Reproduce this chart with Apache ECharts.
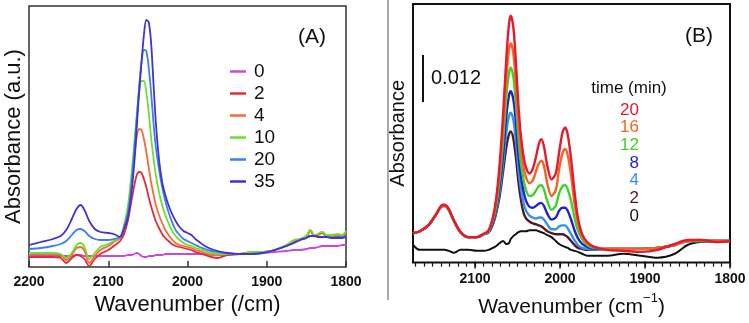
<!DOCTYPE html>
<html>
<head>
<meta charset="utf-8">
<script src="https://cdn.jsdelivr.net/npm/echarts@6/dist/echarts.min.js"></script>
<style>
  html, body { margin: 0; padding: 0; background: #fff; }
  #chart { width: 749px; height: 323px; }
</style>
</head>
<body>
<div id="chart"></div>
<script>
// panel A: wavenumbers and absorbance (a.u.)
const aWn = [2200, 2185, 2170, 2160, 2153, 2146, 2140, 2135, 2130, 2124, 2117, 2110, 2100, 2093, 2085, 2080, 2075, 2071, 2067, 2064, 2061, 2058, 2055, 2052, 2049, 2046, 2043, 2040, 2036, 2032, 2028, 2024, 2020, 2015, 2010, 2005, 2000, 1995, 1990, 1985, 1978, 1970, 1962, 1950, 1935, 1920, 1905, 1890, 1875, 1866, 1858, 1850, 1845, 1840, 1835, 1830, 1825, 1818, 1810, 1805, 1800];
const aNames = ['0', '2', '4', '10', '20', '35'];
const aColors = ['#c948dc', '#e8283a', '#f07030', '#72dc30', '#3a80f0', '#4232d0'];
const a0 = [12, 12, 12, 11, 11, 11, 12, 12, 11, 11, 11, 11, 11, 11, 11, 11, 12, 12, 13, 14, 13, 11, 10, 10, 11, 11, 11, 12, 12, 12, 13, 13, 13, 13, 13, 13, 13, 13, 13, 13, 13, 12, 12, 12, 13, 14, 14, 15, 16, 17, 17, 18, 19, 19, 20, 21, 21, 21, 21, 22, 22];
const a2 = [10, 10, 10, 9, 4, 9, 12, 11, 8, 1, 8, 13, 17, 21, 26, 33, 47, 65, 82, 92, 95, 94, 88, 80, 70, 61, 53, 46, 39, 33, 29, 26, 23, 21, 20, 19, 18, 17, 15, 14, 12, 10, 9, 12, 13, 14, 15, 17, 22, 26, 27, 30, 36, 31, 32, 34, 31, 30, 31, 30, 33];
const a4 = [13, 13, 13, 12, 7, 12, 19, 20, 16, 4, 11, 17, 21, 25, 29, 40, 58, 85, 112, 130, 138, 137, 128, 115, 100, 85, 73, 62, 52, 44, 37, 32, 28, 24, 22, 21, 20, 19, 17, 16, 14, 12, 12, 13, 13, 15, 15, 17, 22, 26, 28, 31, 37, 32, 33, 35, 32, 31, 32, 31, 34];
const a10 = [14, 14, 14, 13, 9, 14, 22, 24, 20, 8, 14, 20, 23, 26, 30, 42, 62, 90, 125, 152, 175, 186, 186, 175, 155, 130, 110, 92, 75, 62, 52, 44, 37, 31, 27, 24, 22, 21, 19, 18, 16, 14, 13, 13, 13, 15, 15, 17, 22, 27, 28, 31, 37, 32, 33, 35, 32, 32, 33, 32, 36];
const a20 = [18, 19, 21, 23, 26, 32, 37, 38, 36, 31, 28, 27, 27, 28, 30, 40, 55, 80, 118, 150, 180, 205, 217, 216, 200, 175, 145, 120, 98, 80, 66, 55, 46, 37, 32, 28, 26, 24, 22, 20, 18, 16, 15, 14, 13, 13, 14, 17, 21, 24, 27, 29, 31, 31, 30, 30, 30, 29, 30, 30, 31];
const a35 = [22, 25, 28, 31, 37, 48, 58, 62, 57, 46, 38, 35, 34, 33, 30, 38, 50, 72, 105, 140, 175, 205, 232, 247, 245, 225, 185, 145, 108, 85, 72, 62, 54, 46, 40, 36, 34, 32, 28, 25, 21, 18, 16, 14, 13, 13, 14, 17, 21, 24, 27, 29, 31, 31, 30, 30, 30, 29, 29, 29, 30];
const aSeries = [a0, a2, a4, a10, a20, a35];

// panel B
const bWn = [2173, 2165, 2155, 2146, 2140, 2136, 2131, 2125, 2117, 2108, 2098, 2090, 2084, 2079, 2075, 2071, 2067, 2063, 2060, 2058, 2055, 2052, 2049, 2046, 2043, 2040, 2036, 2032, 2028, 2025, 2022, 2019, 2015, 2010, 2005, 2001, 1997, 1994, 1991, 1987, 1983, 1979, 1974, 1968, 1960, 1945, 1925, 1905, 1885, 1865, 1850, 1835, 1815, 1800];
const bNames = ['0', '2', '4', '8', '12', '16', '20'];
const bColors = ['#111111', '#521a26', '#3590ee', '#2222cc', '#3fd22a', '#f26424', '#e8192c'];
const b0 = [17, 12, 12, 12, 12, 12, 11, 9, 12, 12, 11, 11, 12, 14, 16, 19, 21, 18, 19, 23, 26, 28, 30, 31, 31, 31, 32, 32, 32, 31, 30, 29, 27, 25, 21, 18, 16, 15, 14, 12, 11, 10, 8, 6, 6, 6, 8, 6, 4, 8, 17, 20, 21, 21];
const b2 = [29, 31, 37, 48, 56, 57, 53, 42, 30, 25, 25, 28, 30, 38, 50, 67, 92, 118, 130, 133, 126, 107, 82, 63, 50, 44, 41, 39, 38, 37, 36, 34, 31, 29, 28, 28, 28, 27, 25, 21, 17, 14, 13, 12, 12, 13, 13, 13, 14, 17, 21, 21, 21, 21];
const b4 = [29, 31, 37, 48, 56, 57, 53, 42, 30, 25, 25, 28, 30, 39, 52, 72, 100, 133, 149, 152, 145, 124, 95, 74, 60, 52, 47, 45, 44, 45, 45, 43, 38, 33, 33, 36, 37, 37, 34, 28, 22, 17, 14, 13, 12, 13, 13, 13, 14, 17, 21, 21, 21, 21];
const b8 = [29, 31, 37, 48, 56, 57, 53, 42, 30, 25, 25, 28, 30, 40, 55, 78, 110, 150, 170, 174, 166, 143, 110, 87, 72, 62, 56, 55, 57, 59, 60, 57, 49, 43, 45, 52, 55, 55, 52, 43, 32, 24, 18, 15, 13, 13, 13, 13, 14, 17, 21, 21, 21, 21];
const b12 = [29, 31, 37, 48, 56, 57, 53, 42, 30, 25, 25, 28, 31, 42, 58, 85, 123, 170, 193, 198, 189, 163, 127, 100, 84, 73, 67, 68, 73, 77, 78, 74, 62, 53, 57, 70, 77, 78, 74, 62, 45, 32, 23, 17, 14, 13, 13, 13, 14, 17, 21, 21, 21, 21];
const b16 = [29, 31, 37, 48, 56, 57, 53, 42, 30, 25, 25, 28, 32, 44, 62, 93, 137, 190, 217, 223, 213, 183, 143, 115, 97, 86, 80, 83, 93, 100, 103, 98, 80, 67, 73, 95, 111, 115, 109, 88, 60, 40, 26, 19, 15, 13, 13, 13, 14, 17, 21, 22, 21, 21];
const b20 = [29, 31, 37, 48, 57, 58, 54, 42, 30, 25, 25, 28, 32, 45, 65, 100, 150, 210, 243, 251, 240, 205, 160, 128, 108, 96, 90, 95, 108, 120, 125, 118, 98, 84, 90, 112, 132, 137, 130, 105, 72, 45, 28, 20, 15, 12, 11, 10, 12, 18, 22, 22, 20, 21];
const bSeries = [b0, b2, b4, b8, b12, b16, b20];
const bLegendOrder = ['20', '16', '12', '8', '4', '2', '0'];

const aTicks = [2200, 2100, 2000, 1900, 1800];
const bTicks = [2100, 2000, 1900, 1800];
const bMinorTicks = [];
for (let w = 1800; w <= 2170; w += 10) bMinorTicks.push(w);

const chart = echarts.init(document.getElementById('chart'));

const series = [];
aSeries.forEach((ys, i) => {
  series.push({
    name: aNames[i], type: 'line', xAxisIndex: 0, yAxisIndex: 0,
    data: aWn.map((w, j) => [w, ys[j]]),
    showSymbol: false, smooth: 0.3, animation: false,
    lineStyle: { color: aColors[i], width: 1.8 }, itemStyle: { color: aColors[i] }
  });
});
bSeries.forEach((ys, i) => {
  series.push({
    name: 'B ' + bNames[i], type: 'line', xAxisIndex: 1, yAxisIndex: 1,
    data: bWn.map((w, j) => [w, ys[j]]),
    showSymbol: false, smooth: 0.3, animation: false,
    lineStyle: { color: bColors[i], width: i === 0 ? 2 : 2.4 }
  });
});

const font = 'Liberation Sans, Arial, sans-serif';
const plain = v => String(v);

const graphics = [
  { type: 'line', shape: { x1: 388, y1: 0, x2: 388, y2: 300 }, style: { stroke: '#aaa', lineWidth: 2 } },
  { type: 'line', shape: { x1: 423, y1: 55, x2: 423, y2: 102 }, style: { stroke: '#111', lineWidth: 2 } },
  { type: 'text', x: 431, y: 78, style: { text: '0.012', font: '20px ' + font, fill: '#111', verticalAlign: 'middle' } },
  { type: 'text', x: 312, y: 37, style: { text: '(A)', font: '21px ' + font, fill: '#111', align: 'center', verticalAlign: 'middle' } },
  { type: 'text', x: 699, y: 36, style: { text: '(B)', font: '21px ' + font, fill: '#111', align: 'center', verticalAlign: 'middle' } },
  { type: 'text', x: 629, y: 88, style: { text: 'time (min)', font: '17px ' + font, fill: '#111', align: 'center', verticalAlign: 'middle' } }
];
bLegendOrder.forEach((n, k) => {
  const idx = bNames.indexOf(n);
  graphics.push({ type: 'text', x: 639, y: 110 + k * 17.7,
    style: { text: n, font: '17px ' + font, fill: bColors[idx], align: 'right', verticalAlign: 'middle' } });
});

chart.setOption({
  backgroundColor: '#fff',
  animation: false,
  grid: [
    { left: 29, right: 403, top: 6, bottom: 56, show: true, borderColor: '#333', borderWidth: 1.5 },
    { left: 413, right: 19, top: 4, bottom: 55, show: true, borderColor: '#111', borderWidth: 2 }
  ],
  legend: {
    data: aNames, orient: 'vertical', left: 225, top: 57,
    icon: 'rect', itemWidth: 16, itemHeight: 2.5, itemGap: 3,
    textStyle: { fontFamily: font, fontSize: 19, color: '#111', padding: [0, 0, 0, 3] },
    selectedMode: false
  },
  xAxis: [
    {
      type: 'value', gridIndex: 0, inverse: true, min: 1800, max: 2200, interval: 100,
      axisLine: { show: false },
      axisTick: { show: true, inside: true, length: 6, lineStyle: { color: '#333', width: 1.5 } },
      splitLine: { show: false },
      axisLabel: { margin: 8, fontFamily: font, fontSize: 14, fontWeight: 'bold', color: '#111',
        formatter: plain, showMinLabel: true, showMaxLabel: true },
      name: 'Wavenumber (/cm)', nameLocation: 'middle', nameGap: 27,
      nameTextStyle: { fontFamily: font, fontSize: 22, color: '#111' }
    },
    {
      type: 'value', gridIndex: 1, inverse: true, min: 1800, max: 2173, position: 'bottom',
      axisLine: { show: false },
      axisTick: { show: true, inside: false, length: 7, customValues: bTicks, lineStyle: { color: '#111', width: 1.5 } },
      splitLine: { show: false },
      axisLabel: { margin: 10, fontFamily: font, fontSize: 14, fontWeight: 'bold', color: '#111',
        customValues: bTicks, formatter: plain },
      name: '{a|Wavenumber (cm}{s|−1}{a|)}', nameLocation: 'middle', nameGap: 26,
      nameTextStyle: { rich: {
        a: { fontFamily: font, fontSize: 21, color: '#111', lineHeight: 32 },
        s: { fontFamily: font, fontSize: 13, color: '#111', verticalAlign: 'top', lineHeight: 14 }
      } }
    },
    {
      type: 'value', gridIndex: 1, inverse: true, min: 1800, max: 2173, position: 'bottom',
      axisLine: { show: false }, axisLabel: { show: false }, splitLine: { show: false },
      axisTick: { show: true, inside: false, length: 4, customValues: bMinorTicks, lineStyle: { color: '#111', width: 1.2 } }
    }
  ],
  yAxis: [
    {
      type: 'value', gridIndex: 0, min: 0, max: 261,
      axisLine: { show: false }, axisTick: { show: false }, axisLabel: { show: false }, splitLine: { show: false },
      name: 'Absorbance (a.u.)', nameLocation: 'middle', nameGap: 4,
      nameTextStyle: { fontFamily: font, fontSize: 22, color: '#111', verticalAlign: 'bottom' }
    },
    {
      type: 'value', gridIndex: 1, min: -1, max: 263,
      axisLine: { show: false }, axisTick: { show: false }, axisLabel: { show: false }, splitLine: { show: false },
      name: 'Absorbance', nameLocation: 'middle', nameGap: 5,
      nameTextStyle: { fontFamily: font, fontSize: 20, color: '#111', verticalAlign: 'bottom' }
    }
  ],
  graphic: graphics,
  series: series
});
</script>
</body>
</html>
